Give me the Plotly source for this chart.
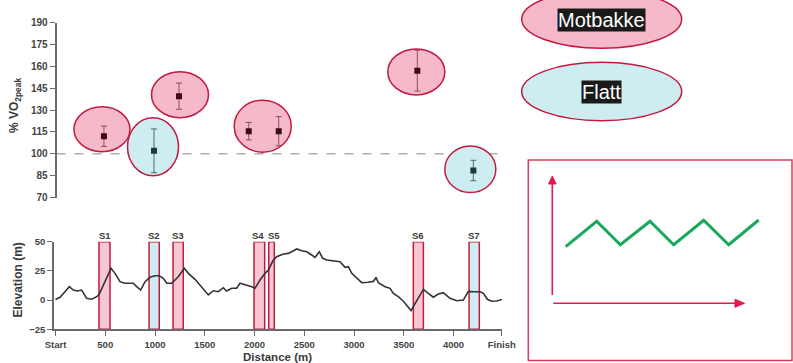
import plotly.graph_objects as go

W, H = 793, 363

# ---------------- data ----------------
segments = ["S1", "S2", "S3", "S4", "S5", "S6", "S7"]
segment_type = ["Motbakke", "Flatt", "Motbakke", "Motbakke", "Motbakke", "Motbakke", "Flatt"]
segment_start = [437, 940, 1181, 1995, 2143, 3596, 4156]
segment_end = [548, 1043, 1284, 2102, 2199, 3697, 4259]

vo2_distance = [487, 990, 1241, 1942, 2243, 3636, 4199]
vo2_peak_pct = [112, 102, 139.5, 115.5, 115.5, 157, 88.5]
vo2_error = [7, 15, 9, 6, 10, 14, 7]

profile_distance = [0, 45, 95, 139, 179, 219, 263, 313, 364, 414, 440, 497, 558, 598, 648, 698,
                    782, 816, 856, 900, 950, 1000, 1043, 1083, 1118, 1168, 1234, 1295, 1335, 1402,
                    1452, 1503, 1536, 1586, 1636, 1686, 1720, 1771, 1821, 1854, 1921, 1972, 2005,
                    2055, 2106, 2139, 2189, 2223, 2290, 2340, 2374, 2424, 2474, 2525, 2575, 2608,
                    2651, 2685, 2726, 2809, 2859, 2910, 2943, 2977, 3027, 3077, 3144, 3194, 3221,
                    3244, 3312, 3362, 3395, 3445, 3496, 3556, 3573, 3613, 3697, 3747, 3797, 3847,
                    3897, 3965, 4032, 4098, 4149, 4200, 4266, 4300, 4340, 4384, 4434, 4485]
profile_elevation = [0.5, 2.4, 7.2, 11.5, 8.6, 7.8, 8.6, 1.5, 0.7, 2.9, 5.2, 15.8, 27.2, 22.9, 15.8,
                     14.4, 14.4, 11.5, 8.6, 15.8, 19.5, 20.9, 20.9, 18.7, 14.4, 14.4, 20.0, 27.2,
                     22.9, 17.8, 12.9, 8.6, 4.4, 8.0, 7.2, 10.6, 7.8, 10.1, 10.1, 14.4, 12.9, 11.5,
                     10.1, 17.2, 22.9, 25.8, 34.3, 37.2, 39.5, 40.0, 41.4, 43.8, 42.3, 41.4, 38.6,
                     36.6, 41.4, 35.8, 34.3, 33.7, 32.9, 28.1, 28.6, 22.9, 18.7, 14.9, 15.3, 16.0,
                     19.5, 14.9, 11.5, 10.1, 5.8, 2.9, -1.0, -7.6, -9.0, -3.0, 9.2, 5.8, 2.5, 5.2,
                     6.3, 1.5, -0.5, 0.0, 7.5, 7.2, 7.2, 5.8, 0.7, -1.0, -0.8, 0.5]

distance_tickvals = [0, 500, 1000, 1500, 2000, 2500, 3000, 3500, 4000, 4485]
distance_ticktext = ["Start", "500", "1000", "1500", "2000", "2500", "3000", "3500", "4000", "Finish"]
vo2_ticks = [70, 85, 100, 115, 130, 145, 160, 175, 190]
elev_ticks = [-25, 0, 25, 50]
vo2_reference = 100

legend_labels = ["Motbakke", "Flatt"]

schematic_x = [0, 31, 54.6, 84.3, 108, 138, 163, 193]
schematic_y = [0, 25.4, 2, 25.4, 2, 26.4, 2, 26.7]

# ---------------- styles / layout geometry ----------------
FONT = "Liberation Sans, Arial, sans-serif"
TXT = "#3a3a3a"
AX = "#6a6a6a"
PINK = "#f5b9c9"
PINK_BAR = "#f7c8d3"
CYAN = "#ceedf0"
BORDER = "#c3193f"
RED = "#e5194d"
GREEN = "#1aa85c"


def px(x):
    return x / W


def py(y):
    return 1 - y / H


X_PX = (54, 502)
X_RANGE = [-15, 4487]
X1_LEFT_PX = 56.5
Y1_PX = (197.5, 22.5)
Y1_RANGE = [70, 190]
Y2_PX = (329.3, 241.7)
Y2_RANGE = [-25, 50]

m_per_px = (X_RANGE[1] - X_RANGE[0]) / (X_PX[1] - X_PX[0])
v_per_px = (Y1_RANGE[1] - Y1_RANGE[0]) / (Y1_PX[0] - Y1_PX[1])
X1_RANGE = [X_RANGE[0] + (X1_LEFT_PX - X_PX[0]) * m_per_px, X_RANGE[1]]

# ellipse groups (indices), pixel radii and pixel offsets of the hand-drawn ellipses
ellipse_groups = [[0], [1], [2], [3, 4], [5], [6]]
ellipse_radius_px = [(28, 22.5), (25.5, 29), (28.5, 23), (28.5, 26), (28.5, 23), (25.5, 23.3)]
ellipse_offset_px = [(-2, -7), (-1, -4), (1, -1.5), (-1, -5), (-1, 1.3), (-3, -1.3)]
# small pixel nudges of the segment labels (S4/S5 sit apart in the original)
label_nudge_px = [0, 0, 0, -1, 2, 0, 0]

type_fill = {"Motbakke": PINK, "Flatt": CYAN}
type_bar_fill = {"Motbakke": PINK_BAR, "Flatt": CYAN}
type_marker = {"Motbakke": "#3b0a16", "Flatt": "#1b3b3b"}
type_err = {"Motbakke": "rgba(130,60,75,0.85)", "Flatt": "rgba(45,90,90,0.85)"}

fig = go.Figure()

# ---------------- bottom panel: segments + elevation ----------------
centers = [(s + e) / 2 for s, e in zip(segment_start, segment_end)]
widths = [e - s for s, e in zip(segment_start, segment_end)]
fig.add_trace(go.Bar(
    x=centers, y=[Y2_RANGE[1] - Y2_RANGE[0]] * len(centers), base=Y2_RANGE[0], width=widths,
    marker=dict(color=[type_bar_fill[t] for t in segment_type], line=dict(color=BORDER, width=1.5)),
    xaxis="x2", yaxis="y2", showlegend=False, hoverinfo="skip"))
fig.add_trace(go.Scatter(
    x=profile_distance, y=profile_elevation, mode="lines",
    line=dict(color="#333333", width=1.6), xaxis="x2", yaxis="y2", showlegend=False))

# ---------------- top panel: VO2 points ----------------
for t in legend_labels:
    idx = [i for i, tt in enumerate(segment_type) if tt == t]
    fig.add_trace(go.Scatter(
        x=[vo2_distance[i] for i in idx], y=[vo2_peak_pct[i] for i in idx], mode="markers",
        marker=dict(symbol="square", size=6, color=type_marker[t]),
        error_y=dict(type="data", array=[vo2_error[i] for i in idx], color=type_err[t],
                     thickness=1, width=3),
        xaxis="x", yaxis="y", showlegend=False, name=t))

shapes = []
for grp, (rx, ry), (ox, oy) in zip(ellipse_groups, ellipse_radius_px, ellipse_offset_px):
    cx = sum(vo2_distance[i] for i in grp) / len(grp) + ox * m_per_px
    cy = sum(vo2_peak_pct[i] for i in grp) / len(grp) - oy * v_per_px
    t = segment_type[grp[0]]
    shapes.append(dict(type="circle", xref="x", yref="y", layer="below",
                       x0=cx - rx * m_per_px, x1=cx + rx * m_per_px,
                       y0=cy - ry * v_per_px, y1=cy + ry * v_per_px,
                       fillcolor=type_fill[t], line=dict(color=BORDER, width=1.5)))
shapes.append(dict(type="line", xref="x domain", yref="y", layer="below",
                   x0=0, x1=1, y0=vo2_reference, y1=vo2_reference,
                   line=dict(color="#b3aca8", width=1.5, dash="dash")))

# legend ellipses
legend_ellipse_px = [(521.7, -9.7, 681.7, 48.3), (521.7, 62.3, 681.7, 120.7)]
legend_text_px = [(601, 20.3), (601, 92.3)]
for lab, (x0, y0, x1, y1) in zip(legend_labels, legend_ellipse_px):
    shapes.append(dict(type="circle", xref="paper", yref="paper",
                       x0=px(x0), x1=px(x1), y0=py(y1), y1=py(y0),
                       fillcolor=type_fill[lab], line=dict(color=BORDER, width=1.5)))

# schematic box with arrow axes
shapes.append(dict(type="rect", xref="paper", yref="paper", x0=px(528.3), x1=px(792),
                   y0=py(360.5), y1=py(160), line=dict(color="#d6405e", width=1.5)))
shapes.append(dict(type="line", xref="paper", yref="paper", x0=px(552.3), x1=px(552.3),
                   y0=py(295), y1=py(182), line=dict(color=RED, width=1.6)))
shapes.append(dict(type="path", xref="paper", yref="paper",
                   path=f"M {px(552.3)} {py(176)} L {px(548.5)} {py(184)} L {px(556.1)} {py(184)} Z",
                   fillcolor=RED, line=dict(color=RED, width=1)))
shapes.append(dict(type="line", xref="paper", yref="paper", x0=px(553.3), x1=px(737),
                   y0=py(303.3), y1=py(303.3), line=dict(color=RED, width=1.6)))
shapes.append(dict(type="path", xref="paper", yref="paper",
                   path=f"M {px(744.5)} {py(303.3)} L {px(735)} {py(299.3)} L {px(735)} {py(307.3)} Z",
                   fillcolor=RED, line=dict(color=RED, width=1)))

annotations = []
for lab, (tx, ty) in zip(legend_labels, legend_text_px):
    annotations.append(dict(text=lab, x=px(tx), y=py(ty), xref="paper", yref="paper",
                            showarrow=False, font=dict(family=FONT, size=20, color="white"),
                            bgcolor="#1a1a1a", borderpad=0, xanchor="center", yanchor="middle"))

for s, c, nd in zip(segments, centers, label_nudge_px):
    annotations.append(dict(text=s, x=c, xref="x2", xshift=nd, y=py(235.5), yref="paper",
                            showarrow=False,
                            font=dict(family=FONT, size=9.5, color=TXT, weight="bold"),
                            xanchor="center", yanchor="middle"))

annotations += [
    dict(text="% VO<sub>2peak</sub>", x=px(15), y=py(106), xref="paper", yref="paper",
         textangle=-90, showarrow=False, font=dict(family=FONT, size=12, color=TXT, weight="bold"),
         xanchor="center", yanchor="middle"),
    dict(text="Elevation (m)", x=px(17.5), y=py(280), xref="paper", yref="paper",
         textangle=-90, showarrow=False, font=dict(family=FONT, size=12, color=TXT, weight="bold"),
         xanchor="center", yanchor="middle"),
    dict(text="Distance (m)", x=px(277), y=py(357), xref="paper", yref="paper",
         showarrow=False, font=dict(family=FONT, size=11.5, color=TXT, weight="bold"),
         xanchor="center", yanchor="middle"),
]

# schematic zigzag
fig.add_trace(go.Scatter(x=schematic_x, y=schematic_y, mode="lines",
                         line=dict(color=GREEN, width=3), xaxis="x3", yaxis="y3",
                         showlegend=False, hoverinfo="skip"))

tickfont = dict(family=FONT, size=10, color="#444444", weight="bold")
smallfont = dict(family=FONT, size=9.5, color="#444444", weight="bold")
common = dict(showline=True, linecolor=AX, linewidth=1.6, ticks="outside", ticklen=5,
              tickwidth=1.3, tickcolor=AX, showgrid=False, zeroline=False, automargin=False)
fig.update_layout(
    width=W, height=H, autosize=False,
    margin=dict(l=0, r=0, t=0, b=0, pad=0, autoexpand=False),
    paper_bgcolor="white", plot_bgcolor="rgba(0,0,0,0)",
    showlegend=False, barmode="overlay",
    shapes=shapes, annotations=annotations,
    xaxis=dict(domain=[px(X1_LEFT_PX), px(X_PX[1])], range=X1_RANGE, visible=False,
               anchor="y", automargin=False),
    yaxis=dict(domain=[py(Y1_PX[0]), py(Y1_PX[1])], range=Y1_RANGE, anchor="x",
               tickvals=vo2_ticks, tickfont=tickfont, **common),
    xaxis2=dict(domain=[px(X_PX[0]), px(X_PX[1])], range=X_RANGE, anchor="y2",
                tickvals=distance_tickvals, ticktext=distance_ticktext, tickfont=smallfont,
                **common),
    yaxis2=dict(domain=[py(Y2_PX[0]), py(Y2_PX[1])], range=Y2_RANGE, anchor="x2",
                tickvals=elev_ticks, tickfont=smallfont, **common),
    xaxis3=dict(domain=[px(555.7), px(768.7)], range=[-10, 203], visible=False, anchor="y3",
                automargin=False),
    yaxis3=dict(domain=[py(251.7), py(215)], range=[-5, 31.7], visible=False, anchor="x3",
                automargin=False),
)

fig.write_html(
    "out.html",
    config={"displayModeBar": False},
    post_script="document.body.style.margin='0';document.body.style.padding='0';"
                "document.body.style.overflow='hidden';",
)
